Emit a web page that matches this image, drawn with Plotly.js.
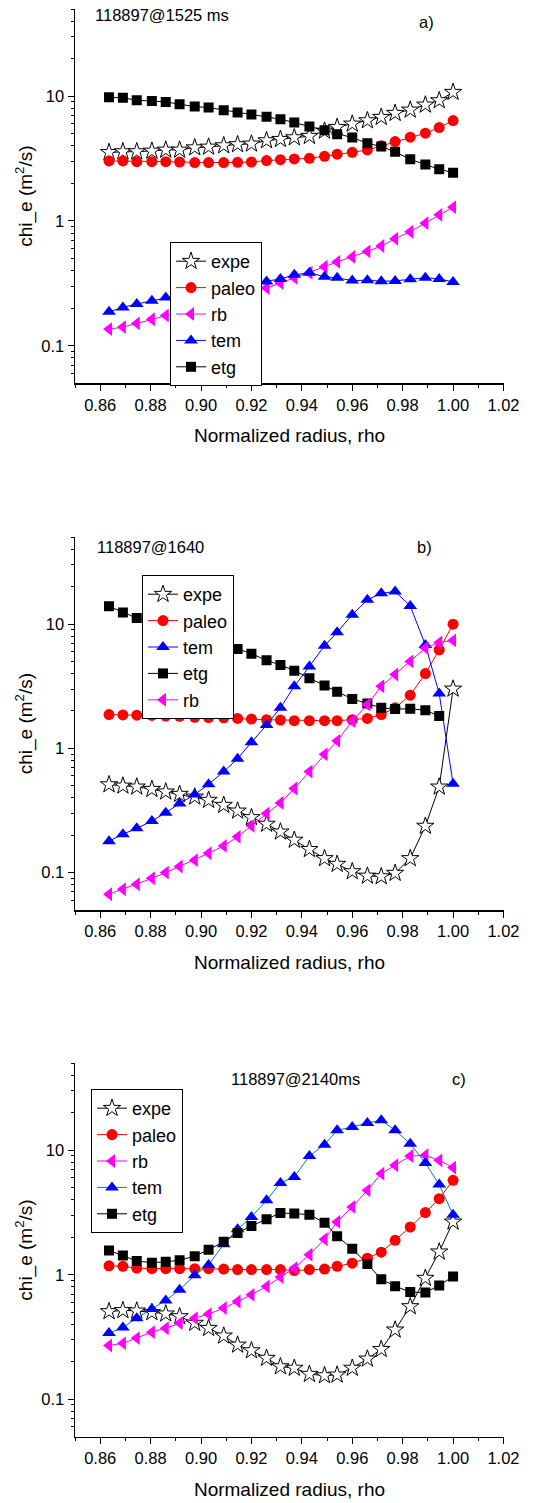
<!DOCTYPE html>
<html>
<head>
<meta charset="utf-8">
<script src="https://cdn.plot.ly/plotly-3.0.1.min.js"></script>
<style>
html,body{margin:0;padding:0;background:#fff;}
#chart{width:559px;height:1503px;}
</style>
</head>
<body>
<div id="chart"></div>
<script>
// ---------- data ----------
const rho = [0.8635, 0.869, 0.8745, 0.8805, 0.886, 0.8915, 0.8975, 0.903, 0.909, 0.9145,
             0.920, 0.926, 0.9315, 0.937, 0.943, 0.949, 0.954, 0.960, 0.966, 0.9715,
             0.977, 0.983, 0.989, 0.9945, 1.000];

// panel a) 118897@1525 ms
const a_expe  = [3.55, 3.60, 3.60, 3.64, 3.71, 3.71, 3.87, 3.92, 4.02, 4.10, 4.15, 4.41, 4.52, 4.66, 4.78, 5.27, 5.64, 6.00, 6.38, 6.79, 7.31, 7.77, 8.52, 9.23, 10.77];
const a_paleo = [3.03, 3.03, 2.99, 2.99, 2.99, 2.97, 2.94, 2.94, 2.94, 2.95, 2.97, 3.05, 3.10, 3.14, 3.18, 3.30, 3.43, 3.55, 3.71, 4.00, 4.33, 4.69, 5.05, 5.61, 6.38];
const a_rb    = [0.136, 0.141, 0.151, 0.163, 0.175, 0.187, 0.200, 0.214, 0.230, 0.247, 0.266, 0.290, 0.318, 0.350, 0.385, 0.430, 0.470, 0.515, 0.570, 0.630, 0.720, 0.820, 0.960, 1.12, 1.29];
const a_tem   = [0.187, 0.203, 0.216, 0.229, 0.244, 0.255, 0.266, 0.277, 0.289, 0.301, 0.314, 0.327, 0.343, 0.370, 0.385, 0.357, 0.350, 0.333, 0.335, 0.329, 0.331, 0.341, 0.351, 0.343, 0.325];
const a_etg   = [9.80, 9.70, 9.29, 9.17, 9.00, 8.63, 8.26, 8.11, 7.72, 7.40, 7.13, 6.83, 6.54, 6.15, 5.71, 5.34, 4.96, 4.66, 4.20, 3.95, 3.58, 3.12, 2.83, 2.60, 2.44];

// panel b) 118897@1640
const b_expe  = [0.511, 0.499, 0.490, 0.469, 0.447, 0.428, 0.407, 0.383, 0.349, 0.314, 0.278, 0.246, 0.213, 0.183, 0.154, 0.130, 0.117, 0.102, 0.094, 0.093, 0.099, 0.130, 0.237, 0.490, 3.01];
const b_paleo = [1.87, 1.86, 1.85, 1.84, 1.82, 1.81, 1.78, 1.77, 1.76, 1.74, 1.72, 1.70, 1.69, 1.67, 1.67, 1.67, 1.67, 1.70, 1.74, 1.87, 2.12, 2.68, 4.00, 6.22, 10.0];
const b_tem   = [0.179, 0.204, 0.227, 0.260, 0.303, 0.360, 0.425, 0.514, 0.650, 0.826, 1.12, 1.54, 2.12, 3.16, 4.57, 6.70, 8.60, 11.9, 15.7, 17.7, 18.3, 14.0, 6.80, 2.76, 0.52];
const b_etg_rho = rho.slice(0, 24);
const b_etg   = [13.9, 12.4, 11.2, 10.3, 9.5, 8.8, 8.1, 7.5, 6.9, 6.3, 5.78, 5.11, 4.69, 4.22, 3.66, 3.20, 2.86, 2.50, 2.30, 2.12, 2.07, 2.08, 2.03, 1.82];
const b_rb    = [0.067, 0.0735, 0.0806, 0.090, 0.100, 0.112, 0.126, 0.143, 0.164, 0.194, 0.238, 0.299, 0.364, 0.475, 0.650, 0.895, 1.15, 1.66, 2.25, 3.16, 3.93, 5.01, 6.42, 7.13, 7.40];

// panel c) 118897@2140ms
const c_expe  = [0.507, 0.517, 0.513, 0.498, 0.486, 0.462, 0.409, 0.372, 0.323, 0.273, 0.246, 0.214, 0.183, 0.178, 0.159, 0.155, 0.157, 0.178, 0.211, 0.252, 0.361, 0.556, 0.94, 1.53, 2.66];
const c_paleo = [1.18, 1.17, 1.13, 1.12, 1.12, 1.12, 1.12, 1.12, 1.11, 1.10, 1.10, 1.10, 1.10, 1.08, 1.10, 1.11, 1.17, 1.24, 1.36, 1.52, 1.89, 2.42, 3.16, 4.09, 5.74];
const c_rb    = [0.270, 0.282, 0.310, 0.346, 0.372, 0.409, 0.448, 0.483, 0.540, 0.610, 0.690, 0.806, 0.958, 1.13, 1.45, 1.93, 2.66, 3.51, 4.77, 6.49, 7.58, 9.00, 9.12, 8.31, 7.26];
const c_tem   = [0.340, 0.377, 0.448, 0.530, 0.622, 0.757, 0.990, 1.20, 1.76, 2.32, 2.91, 3.96, 5.46, 6.11, 9.00, 11.1, 14.5, 15.4, 16.6, 17.4, 14.5, 11.3, 7.91, 5.30, 3.04];
const c_etg   = [1.57, 1.43, 1.29, 1.25, 1.27, 1.31, 1.41, 1.59, 1.84, 2.17, 2.47, 2.79, 3.14, 3.10, 3.04, 2.62, 2.04, 1.62, 1.22, 0.92, 0.81, 0.726, 0.72, 0.82, 0.97];

const xTickVals = [0.86, 0.88, 0.90, 0.92, 0.94, 0.96, 0.98, 1.00, 1.02];
const xTickText = ['0.86', '0.88', '0.90', '0.92', '0.94', '0.96', '0.98', '1.00', '1.02'];
const xMinorVals = [0.85, 0.87, 0.89, 0.91, 0.93, 0.95, 0.97, 0.99, 1.01];
const yTickVals = [0.1, 1, 10];
const yTickText = ['0.1', '1', '10'];
const yMinorVals = [0.06, 0.07, 0.08, 0.09, 0.2, 0.3, 0.4, 0.5, 0.6, 0.7, 0.8, 0.9,
                    2, 3, 4, 5, 6, 7, 8, 9, 20, 30, 40, 50];
const panelLabels = ['118897@1525 ms', '118897@1640', '118897@2140ms'];
const panelLetters = ['a)', 'b)', 'c)'];

// ---------- styles ----------
const FONT = 'Liberation Sans, Arial, sans-serif';
const sty = {
  expe:  {sym: 'star',          col: 'white',   line: 'black',   size: 13, lw: 1},
  paleo: {sym: 'circle',        col: '#ff0000', line: '#ff0000', size: 11, lw: 0},
  rb:    {sym: 'triangle-left', col: '#ff00ff', line: '#ff00ff', size: 12, lw: 0},
  tem:   {sym: 'triangle-up',   col: '#0000ff', line: '#0000ff', size: 12, lw: 0},
  etg:   {sym: 'square',        col: '#000000', line: '#000000', size: 10, lw: 0}
};
const lineCol = {expe: 'black', paleo: '#ff0000', rb: '#ff00ff', tem: '#0000ff', etg: 'black'};

function tr(name, x, y, ax, leg, lcol) {
  const s = sty[name];
  return {
    type: 'scatter', mode: 'lines+markers', name: name,
    x: x, y: y, xaxis: 'x' + ax, yaxis: 'y' + ax, legend: leg,
    line: {color: lcol || lineCol[name], width: 1},
    marker: {symbol: s.sym, size: s.size, color: s.col,
             line: {color: s.line, width: s.lw}}
  };
}

const data = [
  tr('expe', rho, a_expe, '', 'legend'),
  tr('paleo', rho, a_paleo, '', 'legend'),
  tr('rb', rho, a_rb, '', 'legend'),
  tr('tem', rho, a_tem, '', 'legend'),
  tr('etg', rho, a_etg, '', 'legend'),

  tr('expe', rho, b_expe, '2', 'legend2'),
  tr('paleo', rho, b_paleo, '2', 'legend2'),
  tr('tem', rho, b_tem, '2', 'legend2'),
  tr('etg', b_etg_rho, b_etg, '2', 'legend2'),
  tr('rb', rho, b_rb, '2', 'legend2'),

  tr('expe', rho, c_expe, '3', 'legend3'),
  tr('paleo', rho, c_paleo, '3', 'legend3'),
  tr('rb', rho, c_rb, '3', 'legend3'),
  tr('tem', rho, c_tem, '3', 'legend3', '#008080'),
  tr('etg', rho, c_etg, '3', 'legend3')
];

const H = 1503, W = 559;
const xDom = [75 / W, 504 / W];
const yDoms = [[1 - 383.3 / H, 1 - 9 / H], [1 - 910 / H, 1 - 537.3 / H], [1 - 1436.7 / H, 1 - 1063.3 / H]];

function xax(anchor) {
  return {
    domain: xDom, anchor: anchor, range: [0.85, 1.0202],
    tickvals: xTickVals, ticktext: xTickText,
    ticks: 'outside', ticklen: 6, tickwidth: 1, tickcolor: 'black',
    minor: {tickvals: xMinorVals, ticks: 'outside', ticklen: 3, tickcolor: 'black'},
    showline: true, linecolor: 'black', linewidth: 1.5, mirror: false,
    showgrid: false, zeroline: false,
    tickfont: {family: FONT, size: 16.5, color: 'black'},
    title: {text: 'Normalized radius, rho', font: {family: FONT, size: 19, color: 'black'}, standoff: 16}
  };
}
function yax(anchor, dom) {
  return {
    domain: dom, anchor: anchor, type: 'log', range: [Math.log10(0.05), Math.log10(50)],
    tickvals: yTickVals, ticktext: yTickText,
    ticks: 'outside', ticklen: 6, tickwidth: 1, tickcolor: 'black',
    minor: {tickvals: yMinorVals, ticks: 'outside', ticklen: 3, tickcolor: 'black'},
    showline: true, linecolor: 'black', linewidth: 1.5, mirror: false,
    showgrid: false, zeroline: false,
    tickfont: {family: FONT, size: 16.5, color: 'black'},
    title: {text: 'chi_e (m<sup>2</sup>/s)', font: {family: FONT, size: 19, color: 'black'}, standoff: 3}
  };
}
function leg(x, ytop) {
  return {
    x: x / W, y: 1 - ytop / H, xanchor: 'left', yanchor: 'top',
    bgcolor: 'white', bordercolor: 'black', borderwidth: 1,
    font: {family: FONT, size: 18, color: 'black'},
    tracegroupgap: 0, itemsizing: 'trace'
  };
}
function ann(text, x, y, anchor) {
  return {text: text, x: x / W, y: 1 - y / H, xref: 'paper', yref: 'paper',
          xanchor: anchor, yanchor: 'middle', showarrow: false,
          font: {family: FONT, size: 16.5, color: 'black'}};
}

const layout = {
  width: W, height: H,
  margin: {l: 0, r: 0, t: 0, b: 0},
  paper_bgcolor: 'white', plot_bgcolor: 'white',
  showlegend: true,
  font: {family: FONT, color: 'black'},
  xaxis: xax('y'), yaxis: yax('x', yDoms[0]),
  xaxis2: xax('y2'), yaxis2: yax('x2', yDoms[1]),
  xaxis3: xax('y3'), yaxis3: yax('x3', yDoms[2]),
  legend: leg(170, 242),
  legend2: leg(142, 575),
  legend3: leg(91, 1089),
  annotations: [
    ann(panelLabels[0], 92.7, 15, 'left'),
    ann(panelLetters[0], 426, 22, 'center'),
    ann(panelLabels[1], 95, 547, 'left'),
    ann(panelLetters[1], 424, 547, 'center'),
    ann(panelLabels[2], 295, 1079, 'center'),
    ann(panelLetters[2], 459, 1079, 'center')
  ]
};

Plotly.newPlot('chart', data, layout, {displayModeBar: false, staticPlot: true});
</script>
</body>
</html>
